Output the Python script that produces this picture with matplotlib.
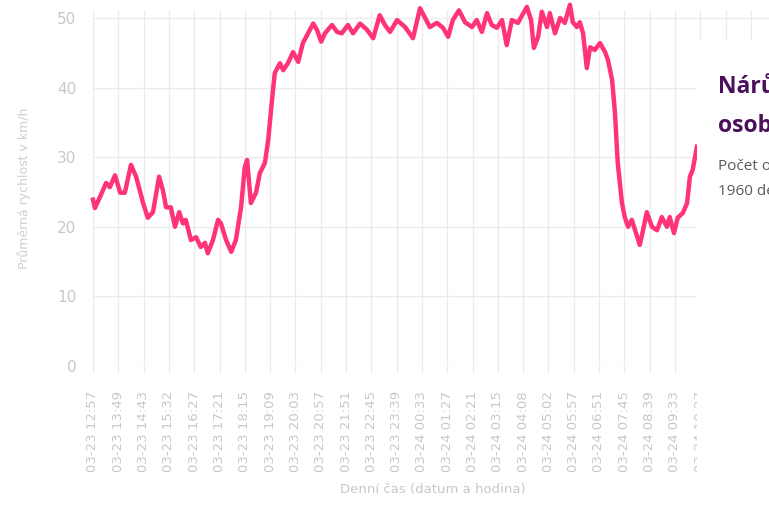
import matplotlib
matplotlib.use("Agg")
import matplotlib.pyplot as plt
import matplotlib.transforms as mtransforms
from matplotlib.patches import Rectangle

# average speed, sample index in minutes from 03-23 12:57
minute = [0, 4, 15, 28, 36, 47, 58, 68, 81, 92, 107, 117, 128, 141, 149, 156,
          166, 175, 184, 192, 198, 209, 220, 230, 239, 245, 256, 267, 273, 284,
          295, 305, 316, 324, 329, 337, 348, 356, 367, 374, 382, 388, 399, 406,
          416, 427, 438, 448, 459, 470, 478, 487, 495, 510, 521, 531, 544, 555,
          570, 585, 598, 612, 623, 634, 649, 666, 683, 698, 708, 719, 734, 747,
          758, 768, 781, 794, 809, 819, 830, 841, 851, 862, 873, 883, 894, 907,
          926, 935, 941, 950, 958, 969, 975, 986, 997, 1007, 1018, 1024, 1033,
          1039, 1046, 1054, 1061, 1071, 1082, 1093, 1099, 1108, 1114, 1120, 1129,
          1135, 1142, 1150, 1157, 1167, 1174, 1182, 1193, 1204, 1214, 1225, 1231,
          1240, 1248, 1259, 1268, 1274, 1280, 1289]
speed = [23.9, 22.7, 24.3, 26.3, 25.7, 27.4, 24.9, 24.9, 28.9, 27.2, 23.4, 21.3,
         22.1, 27.2, 25.3, 22.8, 22.8, 20.0, 22.1, 20.5, 21.0, 18.1, 18.5, 17.1,
         17.7, 16.2, 18.1, 21.0, 20.5, 18.1, 16.4, 18.1, 22.8, 28.6, 29.6, 23.4,
         24.9, 27.7, 29.2, 32.5, 38.2, 42.1, 43.5, 42.5, 43.5, 45.1, 43.7, 46.4,
         47.8, 49.2, 48.3, 46.6, 47.8, 49.0, 48.0, 47.8, 49.0, 47.8, 49.2, 48.3,
         47.1, 50.4, 49.0, 48.0, 49.7, 48.7, 47.1, 51.4, 50.1, 48.7, 49.3, 48.6,
         47.3, 49.7, 51.1, 49.4, 48.7, 49.7, 48.0, 50.7, 49.0, 48.6, 49.7, 46.1,
         49.7, 49.3, 51.6, 49.7, 45.7, 47.3, 50.9, 48.7, 50.7, 47.8, 50.0, 49.3,
         51.9, 49.4, 48.7, 49.4, 47.8, 42.8, 45.8, 45.4, 46.4, 45.1, 44.0, 41.1,
         36.4, 29.2, 23.4, 21.4, 20.0, 21.0, 19.5, 17.4, 19.5, 22.1, 20.0, 19.5,
         21.4, 20.0, 21.4, 19.1, 21.3, 22.0, 23.4, 27.2, 28.2, 31.5]

tick_labels = ["03-23 12:57", "03-23 13:49", "03-23 14:43", "03-23 15:32",
               "03-23 16:27", "03-23 17:21", "03-23 18:15", "03-23 19:09",
               "03-23 20:03", "03-23 20:57", "03-23 21:51", "03-23 22:45",
               "03-23 23:39", "03-24 00:33", "03-24 01:27", "03-24 02:21",
               "03-24 03:15", "03-24 04:08", "03-24 05:02", "03-24 05:57",
               "03-24 06:51", "03-24 07:45", "03-24 08:39", "03-24 09:33",
               "03-24 10:27"]
step = 54  # samples between labels

W, H = 769, 505
fig = plt.figure(figsize=(W / 100, H / 100), dpi=100)
fig.patch.set_facecolor("white")
ax = fig.add_axes([93 / W, 139 / H, 680 / W, 356 / H])

ax.plot(minute, speed, color="#ff3377", lw=3.2, solid_joinstyle="round",
        clip_on=False, zorder=3)

ax.set_xlim(0, 680 / 25.3 * step)
ax.set_ylim(0, 51.15)
ax.set_yticks([0, 10, 20, 30, 40, 50])
ax.set_xticks([i * step for i in range(27)])
ax.set_xticklabels(tick_labels + ["", ""], rotation=90, fontsize=9.5,
                   color="#c8c8c8")
for lab in ax.get_xticklabels():
    lab.set_transform(lab.get_transform() +
                      mtransforms.ScaledTranslation(-5 / 100, 0, fig.dpi_scale_trans))
ax.tick_params(axis="y", labelsize=11, labelcolor="#c8c8c8", length=0, pad=12)
ax.tick_params(axis="x", length=5, color="#ebebeb", pad=13)
ax.grid(True, color="#ebebeb", lw=1)
ax.set_axisbelow(True)
for s in ax.spines.values():
    s.set_visible(False)

ax.set_ylabel("Průměrná rychlost v km/h", fontsize=9, color="#cfcfcf", labelpad=19)
ax.set_xlabel("Denní čas (datum a hodina)", fontsize=9.5, color="#c8c8c8", labelpad=8)

# white info panel on the right
fig.add_artist(Rectangle((697 / W, 0), 1, (H - 40) / H, transform=fig.transFigure,
                         facecolor="white", edgecolor="none", zorder=10))
fig.text(718 / W, 1 - 93 / H, "Nárůst", fontsize=16.5, fontweight="bold",
         color="#4b0f5c", family="Open Sans", zorder=11)
fig.text(718 / W, 1 - 132 / H, "osobních aut", fontsize=16.5, fontweight="bold",
         color="#4b0f5c", family="Open Sans", zorder=11)
fig.text(718 / W, 1 - 170 / H, "Počet osobních", fontsize=11,
         color="#5a5a5a", family="Open Sans", zorder=11)
fig.text(718 / W, 1 - 195 / H, "1960 denně", fontsize=11,
         color="#5a5a5a", family="Open Sans", zorder=11)

fig.savefig("out.png", dpi=100)
